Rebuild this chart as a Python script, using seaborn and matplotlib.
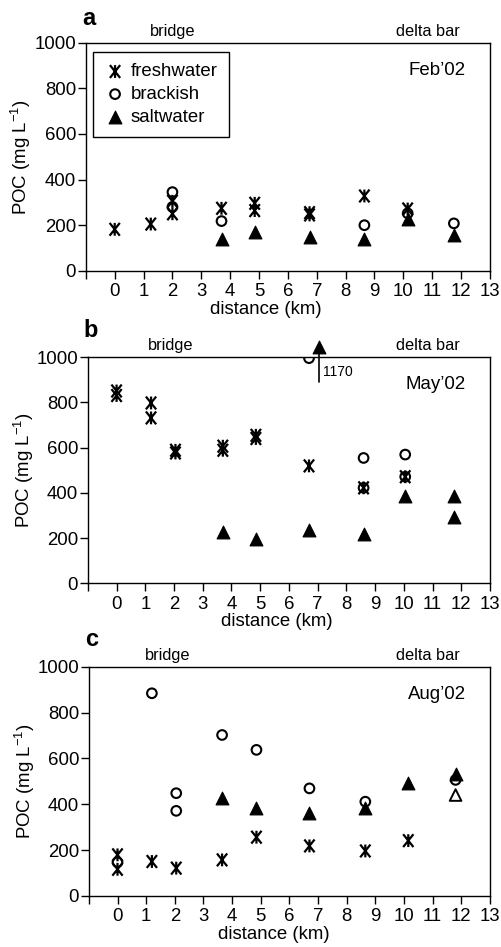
import matplotlib
matplotlib.use("Agg")
import matplotlib.pyplot as plt
from matplotlib.path import Path
import seaborn as sns

# Feb'02
feb_fresh_km = [0, 1.25, 2.0, 2.0, 3.7, 4.85, 4.85, 6.75, 6.75, 8.65, 10.15]
feb_fresh_poc = [182, 205, 250, 305, 274, 296, 264, 255, 245, 328, 271]
feb_brack_km = [2.0, 2.0, 3.7, 8.65, 10.15, 11.75]
feb_brack_poc = [345, 280, 218, 200, 252, 208]
feb_salt_km = [3.7, 4.85, 6.75, 8.65, 10.15, 11.75]
feb_salt_poc = [138, 169, 150, 138, 226, 158]

# May'02
may_fresh_km = [0, 0, 1.2, 1.2, 2.05, 2.05, 3.7, 3.7, 4.85, 4.85, 6.7, 8.6, 10.05]
may_fresh_poc = [850, 830, 797, 731, 588, 576, 606, 588, 654, 640, 519, 422, 471]
may_brack_km = [6.7, 8.6, 8.6, 10.05, 10.05]
may_brack_poc = [995, 554, 422, 569, 471]
may_salt_km = [3.7, 4.85, 6.7, 8.6, 10.05, 11.75, 11.75]
may_salt_poc = [228, 194, 235, 218, 385, 387, 291]
# off-scale saltwater sample (drawn above the frame)
may_off_km = 7.05
may_off_poc = 1170

# Aug'02
aug_fresh_km = [0, 0, 1.2, 2.05, 3.65, 4.85, 6.7, 8.65, 10.15]
aug_fresh_poc = [179, 116, 150, 121, 157, 256, 218, 196, 241]
aug_brack_km = [0, 1.2, 2.05, 2.05, 3.65, 4.85, 6.7, 8.65, 11.8]
aug_brack_poc = [147, 884, 448, 371, 702, 637, 469, 411, 506]
aug_salt_km = [3.65, 4.85, 6.7, 8.65, 10.15, 11.8]
aug_salt_poc = [426, 385, 360, 385, 494, 532]
aug_salt_open_km = [11.8]
aug_salt_open_poc = [440]

panel_letters = ["a", "b", "c"]
months = ["Feb\u201902", "May\u201902", "Aug\u201902"]
x_ticks = list(range(-1, 14))
x_ticklabels = [""] + [str(i) for i in range(0, 14)]
y_ticks = [0, 200, 400, 600, 800, 1000]

sns.set_style("ticks")
plt.rcParams['font.family'] = ['Liberation Sans', 'DejaVu Sans']
plt.rcParams['mathtext.default'] = 'regular'
plt.rcParams['text.color'] = 'k'
plt.rcParams['axes.labelcolor'] = 'k'
plt.rcParams['xtick.color'] = 'k'
plt.rcParams['ytick.color'] = 'k'

fig = plt.figure(figsize=(5.02, 9.47), dpi=100)

# axes rects (fig fraction)
rects = [[0.171, 0.714, 0.805, 0.241],
         [0.175, 0.384, 0.801, 0.239],
         [0.177, 0.054, 0.799, 0.242]]
xlabel_pos = [0.445, 0.47, 0.46]
bridge_x = [2.0, 1.9, 1.75]

fresh = [(feb_fresh_km, feb_fresh_poc), (may_fresh_km, may_fresh_poc), (aug_fresh_km, aug_fresh_poc)]
brack = [(feb_brack_km, feb_brack_poc), (may_brack_km, may_brack_poc), (aug_brack_km, aug_brack_poc)]
salt = [(feb_salt_km, feb_salt_poc), (may_salt_km, may_salt_poc), (aug_salt_km, aug_salt_poc)]

# X with a vertical bar through it
asterisk = Path([(-0.8, -1), (0.8, 1), (-0.8, 1), (0.8, -1), (0, -1), (0, 1)],
                [Path.MOVETO, Path.LINETO, Path.MOVETO, Path.LINETO, Path.MOVETO, Path.LINETO])

for i in range(3):
    ax = fig.add_axes(rects[i])
    fx, fy = fresh[i]
    bx, by = brack[i]
    sx, sy = salt[i]
    sns.scatterplot(x=fx, y=fy, ax=ax, marker=asterisk, s=85, facecolor="none",
                    edgecolor="k", linewidth=1.6, label="freshwater", zorder=3)
    sns.scatterplot(x=bx, y=by, ax=ax, marker="o", s=48, facecolor="none",
                    edgecolor="k", linewidth=1.5, label="brackish", zorder=3)
    sns.scatterplot(x=sx, y=sy, ax=ax, marker="^", s=85, color="k",
                    edgecolor="k", linewidth=0.8, label="saltwater", zorder=3)

    if i == 1:
        # off-scale point with break line
        top = 1045
        ax.plot([may_off_km, may_off_km], [890, top], color="k", lw=1.2, clip_on=False)
        sns.scatterplot(x=[may_off_km], y=[top], ax=ax, marker="^", s=85, color="k",
                        edgecolor="k", linewidth=0.8, clip_on=False, zorder=4)
        ax.text(may_off_km + 0.12, 935, str(may_off_poc), fontsize=10, va="center", ha="left")
    if i == 2:
        sns.scatterplot(x=aug_salt_open_km, y=aug_salt_open_poc, ax=ax, marker="^", s=70,
                        facecolor="none", edgecolor="k", linewidth=1.4, zorder=3)

    ax.set_xlim(-1, 13)
    ax.set_ylim(0, 1000)
    ax.set_xticks(x_ticks)
    ax.set_xticklabels(x_ticklabels)
    ax.set_yticks(y_ticks)
    ax.tick_params(axis="both", labelsize=13.4, length=6, width=1.0, direction="out", colors="k")
    ax.tick_params(axis="y", pad=1)
    ax.tick_params(axis="x", pad=3)
    for sp in ax.spines.values():
        sp.set_visible(True)
        sp.set_linewidth(1.0)
        sp.set_color("k")

    ax.set_xlabel("distance (km)", fontsize=13.4, labelpad=0)
    ax.xaxis.set_label_coords(xlabel_pos[i], -0.13)
    ax.set_ylabel("POC (mg L$^{-1}$)", fontsize=13.4)
    ax.yaxis.set_label_coords(-0.13, 0.5)

    ax.text(-0.01, 1.075 if i == 0 else 1.09, panel_letters[i], transform=ax.transAxes,
            fontsize=17, fontweight="bold", ha="left", va="baseline")
    trans = ax.get_xaxis_transform()
    ax.text(bridge_x[i], 1.03, "bridge", transform=trans, fontsize=11.8, ha="center", va="baseline")
    ax.text(10.85, 1.03, "delta bar", transform=trans, fontsize=11.8, ha="center", va="baseline")
    ax.text(0.94, 0.86, months[i], transform=ax.transAxes, fontsize=13.4, ha="right", va="baseline")

    if i == 0:
        leg = ax.legend(loc="upper left", bbox_to_anchor=(0.017, 0.958), fontsize=13.4,
                        frameon=True, fancybox=False, edgecolor="k", framealpha=1,
                        handletextpad=0.25, labelspacing=0.3, borderpad=0.6, handlelength=1.2,
                        borderaxespad=0)
        leg.get_frame().set_linewidth(1.0)
    else:
        ax.get_legend().remove()

fig.savefig("out.png", dpi=100)
